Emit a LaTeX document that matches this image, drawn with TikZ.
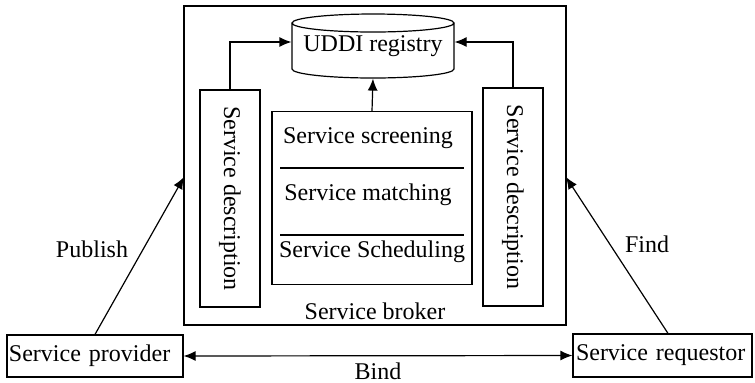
\documentclass[tikz,border=0pt]{standalone}
\usepackage{fontspec}
\setmainfont{Liberation Serif}
\usetikzlibrary{arrows.meta}

\begin{document}
\begin{tikzpicture}[x=0.5pt, y=-0.5pt, >={Latex[length=6pt,width=5pt]}, semithick,
	box/.style = {draw, rectangle, inner sep=0pt},
	every node/.style = {font=\fontsize{12}{14}\selectfont}]
	\useasboundingbox (0,0) rectangle (755,382);
	% broker and its parts
	\node[box, minimum width=191pt, minimum height=159.5pt] (broker) at (375,165.5) {};
	\node (brokername) at (375,311) {Service broker};
	\node[inner sep=0pt, minimum width=81pt, minimum height=32pt] (uddi) at (373,46) {UDDI registry};
	\draw (292,23) -- (292,69) arc[start angle=180, end angle=360, x radius=40.5pt, y radius=4.5pt] -- (454,23)
		(373,23) ellipse[x radius=40.5pt, y radius=4.5pt];
	\node[box, rotate=-90, minimum width=108.5pt, minimum height=30pt] (pubdesc) at (230,198.5) {Service description};
	\node[box, rotate=-90, minimum width=109pt, minimum height=30pt] (finddesc) at (513,197) {Service description};
	\node[box, minimum width=100pt, minimum height=86.5pt] (tasks) at (372,198) {};
	\node (screening) at (368,138) {Service screening};
	\node (matching) at (368,195) {Service matching};
	\node (scheduling) at (372,252) {Service Scheduling};
	\draw (280,168) -- (464,168) (280,235) -- (464,235);
	% roles
	\node[box, inner xsep=1pt, text width=86pt, align=left, minimum height=21pt] (provider) at (95,356) {Service provider};
	\node[box, inner xsep=1.5pt, text width=86.5pt, align=left, minimum height=21.5pt] (requestor) at (662.5,355.5) {Service requestor};
	\coordinate (pubtip) at (184,177);
	\coordinate (findtip) at (566,177);
	\node (publish) at (92,249) {Publish};
	\node (find) at (647,244) {Find};
	% connectors
	\draw[->] (pubdesc.west) |- ([yshift=2pt]uddi.west);
	\draw[->] (finddesc.west) |- ([yshift=2pt]uddi.east);
	\draw[->] (tasks.north) -- (uddi.south);
	\draw[->] (provider.north) -- (pubtip);
	\draw[->] ([xshift=2.75pt]requestor.north) -- (findtip);
	\draw[<->] (provider.east) -- node[below] (bind) {Bind} (requestor.west);
\end{tikzpicture}
\end{document}
